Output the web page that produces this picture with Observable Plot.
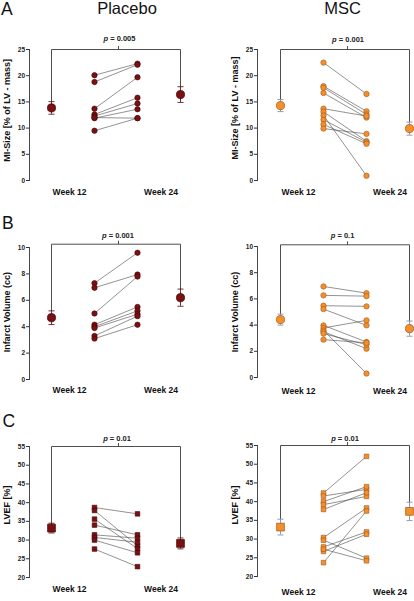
<!DOCTYPE html>
<html><head><meta charset="utf-8">
<script src="https://cdn.jsdelivr.net/npm/d3@7"></script>
<script src="https://cdn.jsdelivr.net/npm/@observablehq/plot@0.6"></script>
<style>
body{margin:0;background:#fff;}
#fig{position:relative;width:414px;height:601px;overflow:hidden;font-family:"Liberation Sans",Arial,sans-serif;color:#111;}
.panel{position:absolute;}
.lab{position:absolute;font-size:17.5px;line-height:1;white-space:nowrap;}
.title{position:absolute;font-size:16.5px;line-height:1;transform:translateX(-50%);white-space:nowrap;}
</style></head><body><div id="fig"></div>
<script>
// ---------- data ----------
const timeCategories = ["Week 12 mean", "Week 12", "Week 24", "Week 24 mean"];
const weekLabels = ["Week 12", "Week 24"];
const groups = ["Placebo", "MSC"];
const panelLetters = ["A", "B", "C"];
const measures = ["MI-Size [% of LV - mass]", "Infarct Volume (cc)", "LVEF [%]"];
const yTicksMI = [0, 5, 10, 15, 20, 25];
const yTicksIV = [0, 2, 4, 6, 8, 10];
const yTicksEF = [20, 25, 30, 35, 40, 45, 50, 55];
const pValues = ["p = 0.005", "p = 0.001", "p = 0.001", "p = 0.1", "p = 0.01", "p = 0.01"];

// MI size (% of LV mass)
const placeboMI12 = [20.1, 18.8, 13.7, 12.6, 12.3, 11.9, 12.0, 9.5];
const placeboMI24 = [22.3, 22.1, 19.7, 15.8, 14.7, 13.6, 11.9, 11.9];
const placeboMIMean = [13.85, 16.4];
const placeboMIErr = [1.2, 1.5];
const mscMI12 = [22.5, 18.0, 17.7, 16.7, 13.7, 13.1, 12.4, 11.6, 10.7, 9.9];
const mscMI24 = [16.5, 13.2, 12.6, 12.0, 12.3, 7.5, 0.9, 7.3, 7.0, 8.9];
const mscMIMean = [14.3, 9.9];
const mscMIErr = [1.15, 1.25];

// Infarct volume (cc)
const placeboIV12 = [7.3, 6.95, 5.0, 4.15, 4.0, 3.9, 3.3, 3.1];
const placeboIV24 = [9.6, 7.95, 7.8, 5.5, 5.2, 4.95, 4.8, 4.15];
const placeboIVMean = [4.68, 6.2];
const placeboIVErr = [0.52, 0.65];
const mscIV12 = [6.95, 6.27, 5.48, 5.22, 3.98, 3.78, 3.6, 3.5, 3.35, 2.89];
const mscIV24 = [6.44, 6.21, 5.43, 3.98, 2.71, 4.36, 0.3, 2.2, 2.51, 2.65];
const mscIVMean = [4.42, 3.73];
const mscIVErr = [0.42, 0.58];

// LVEF (%)
const placeboEF12 = [38.7, 37.9, 35.6, 34.0, 31.4, 30.7, 30.0, 27.6];
const placeboEF24 = [37.0, 28.5, 27.7, 31.4, 30.5, 29.4, 26.6, 22.9];
const placeboEFMean = [33.2, 29.1];
const placeboEFErr = [1.3, 1.45];
const mscEF12 = [42.3, 41.5, 40.0, 39.2, 37.9, 30.4, 29.7, 27.9, 26.7, 23.7, 27.3];
const mscEF24 = [52.1, 43.3, 44.0, 41.4, 42.4, 38.3, 24.9, 31.9, 31.3, 37.5, 24.2];
const mscEFMean = [33.2, 37.4];
const mscEFErr = [2.1, 2.45];

// bracket levels (in axis units)
const bracketLevels = [25, 25, 10.25, 10.13, 55, 55];

// ---------- styles ----------
const groupStyle = {
  Placebo: {fill: "#7b1012", stroke: "#420404", err: "#5e1b1b"},
  MSC: {fill: "#f4902a", stroke: "#a0561c", err: "#8393aa"}
};
const hCap = {draw(ctx) { ctx.moveTo(-3, 0); ctx.lineTo(3, 0); }};
const vTick = {draw(ctx) { ctx.moveTo(0, 0); ctx.lineTo(0, -3.5); }};

const fig = document.getElementById("fig");

function makePanel(cfg) {
  const st = groupStyle[cfg.group];
  const pairs = cfg.w12.map((a, i) => ({a, b: cfg.w24[i]}));
  const meanRows = [
    {t: timeCategories[0], m: cfg.means[0], e: cfg.errs[0]},
    {t: timeCategories[3], m: cfg.means[1], e: cfg.errs[1]}
  ];
  const bracket = [
    {t: timeCategories[0], v: cfg.means[0] + cfg.errs[0]},
    {t: timeCategories[0], v: cfg.bracket},
    {t: timeCategories[3], v: cfg.bracket},
    {t: timeCategories[3], v: cfg.means[1] + cfg.errs[1]}
  ];
  const half = (cfg.xr[1] - cfg.xr[0]) / 6;
  const sym = cfg.square ? "square" : "circle";
  const rInd = cfg.square ? 2.6 : 2.7;
  const rMean = cfg.square ? 4.4 : 4.1;
  const svg = Plot.plot({
    width: 207,
    height: cfg.height,
    marginTop: cfg.mt,
    marginBottom: cfg.mb,
    marginLeft: cfg.ml,
    marginRight: 0,
    style: {background: "none", fontFamily: "'Liberation Sans', Arial, sans-serif", fontWeight: "bold", fontSize: "6.5px", color: "#222"},
    x: {type: "point", domain: timeCategories, range: cfg.xr, padding: 0, align: 0.5, axis: null},
    y: {domain: cfg.domain, axis: null},
    marks: [
      Plot.axisY({ticks: cfg.ticks, tickSize: 3, tickPadding: 1.5, label: null, stroke: "#333", fill: "#222"}),
      Plot.frame({anchor: "left", stroke: "#333", strokeWidth: 0.9}),
      Plot.line(bracket, {x: "t", y: "v", stroke: "#3a3a3a", strokeWidth: 0.9}),
      Plot.dot([cfg.bracket], {x: () => timeCategories[1], y: d => d, dx: half + 2.5, symbol: vTick, stroke: "#3a3a3a", strokeWidth: 0.9, fill: "none"}),
      Plot.text([cfg.p], {x: () => timeCategories[1], y: () => cfg.bracket, text: d => d, dx: half + cfg.pOff, dy: -cfg.pGap, lineAnchor: "bottom", fontSize: 7.5, fill: "#222"}),
      Plot.link(pairs, {x1: () => timeCategories[1], x2: () => timeCategories[2], y1: "a", y2: "b", stroke: "#4a4a4a", strokeWidth: 0.6}),
      Plot.dot(cfg.w12, {x: () => timeCategories[1], y: d => d, r: rInd, symbol: sym, fill: st.fill, stroke: st.stroke, strokeWidth: 0.6}),
      Plot.dot(cfg.w24, {x: () => timeCategories[2], y: d => d, r: rInd, symbol: sym, fill: st.fill, stroke: st.stroke, strokeWidth: 0.6}),
      Plot.ruleX(meanRows, {x: "t", y1: d => d.m - d.e, y2: d => d.m + d.e, stroke: st.err, strokeWidth: 0.9}),
      Plot.dot(meanRows, {x: "t", y: d => d.m + d.e, symbol: hCap, stroke: st.err, strokeWidth: 0.9, fill: "none"}),
      Plot.dot(meanRows, {x: "t", y: d => d.m - d.e, symbol: hCap, stroke: st.err, strokeWidth: 0.9, fill: "none"}),
      Plot.dot(meanRows, {x: "t", y: "m", r: rMean, symbol: sym, fill: st.fill, stroke: st.stroke, strokeWidth: 0.7}),
      Plot.text([weekLabels[0]], {x: () => timeCategories[0], text: d => d, frameAnchor: "bottom", textAnchor: "middle", dx: 18, dy: cfg.weekDy, fontSize: 8.5, fill: "#111"}),
      Plot.text([weekLabels[1]], {x: () => timeCategories[3], text: d => d, frameAnchor: "bottom", textAnchor: "middle", dx: -19.5, dy: cfg.weekDy, fontSize: 8.5, fill: "#111"}),
      Plot.text([cfg.label], {text: d => d, frameAnchor: "left", textAnchor: "middle", rotate: -90, dx: -(cfg.ml - cfg.labelX), dy: cfg.labelDy, fontSize: 9, fill: "#111"})
    ]
  });
  svg.querySelectorAll("text").forEach(t => {
    const s = t.textContent;
    if (s.startsWith("p =")) {
      t.textContent = "";
      const ts = document.createElementNS("http://www.w3.org/2000/svg", "tspan");
      ts.setAttribute("font-style", "italic");
      ts.textContent = "p";
      t.appendChild(ts);
      t.appendChild(document.createTextNode(s.slice(1)));
    }
  });
  const wrap = document.createElement("div");
  wrap.className = "panel";
  wrap.style.left = cfg.left + "px";
  wrap.style.top = cfg.top + "px";
  wrap.appendChild(svg);
  fig.appendChild(wrap);
}

const L = {ml: 29, xr: [51, 180], left: 0, labelX: 6.5};
const R = {ml: 50, xr: [72.7, 202], left: 207, labelX: 27.5};

const panels = [
  {...L, group: groups[0], top: 0, height: 200, mt: 49, mb: 20, domain: [0, 25], ticks: yTicksMI, label: measures[0], labelDy: -4.6, weekDy: 14.5, w12: placeboMI12, w24: placeboMI24, means: placeboMIMean, errs: placeboMIErr, p: pValues[0], bracket: bracketLevels[0], pOff: 3.5, pGap: 8.5},
  {...R, group: groups[1], top: 0, height: 200, mt: 49, mb: 20, domain: [0, 25], ticks: yTicksMI, label: measures[0], labelDy: -7, weekDy: 14.8, w12: mscMI12, w24: mscMI24, means: mscMIMean, errs: mscMIErr, p: pValues[1], bracket: bracketLevels[1], pOff: 3, pGap: 7.5},
  {...L, group: groups[0], top: 200, height: 200, mt: 47, mb: 21, domain: [0, 10], ticks: yTicksIV, label: measures[1], labelDy: -1.3, weekDy: 13.8, w12: placeboIV12, w24: placeboIV24, means: placeboIVMean, errs: placeboIVErr, p: pValues[2], bracket: bracketLevels[2], pOff: 2, pGap: 6},
  {...R, group: groups[1], top: 200, height: 200, mt: 46, mb: 23, domain: [0, 10], ticks: yTicksIV, label: measures[1], labelDy: 0, weekDy: 16, w12: mscIV12, w24: mscIV24, means: mscIVMean, errs: mscIVErr, p: pValues[3], bracket: bracketLevels[3], pOff: -2.5, pGap: 7},
  {...L, group: groups[0], top: 400, height: 201, mt: 46, mb: 24, domain: [20, 55], ticks: yTicksEF, label: measures[2], labelDy: -7, weekDy: 14.5, w12: placeboEF12, w24: placeboEF24, means: placeboEFMean, errs: placeboEFErr, p: pValues[4], bracket: bracketLevels[4], pOff: 1, pGap: 5.5, square: true},
  {...R, group: groups[1], top: 400, height: 201, mt: 45, mb: 25, domain: [20, 55], ticks: yTicksEF, label: measures[2], labelDy: -6, weekDy: 18, w12: mscEF12, w24: mscEF24, means: mscEFMean, errs: mscEFErr, p: pValues[5], bracket: bracketLevels[5], pOff: 0, pGap: 4.5, square: true}
];
panels.forEach(makePanel);

// panel letters and group titles
const letterPos = [{left: 1, top: 0.5}, {left: 2, top: 214.5}, {left: 2.5, top: 413}];
panelLetters.forEach((s, i) => {
  const d = document.createElement("div");
  d.className = "lab";
  d.textContent = s;
  d.style.left = letterPos[i].left + "px";
  d.style.top = letterPos[i].top + "px";
  fig.appendChild(d);
});
const titleX = [127, 342.5];
groups.forEach((g, i) => {
  const d = document.createElement("div");
  d.className = "title";
  d.textContent = g;
  d.style.left = titleX[i] + "px";
  d.style.top = "0px";
  fig.appendChild(d);
});
</script></body></html>
